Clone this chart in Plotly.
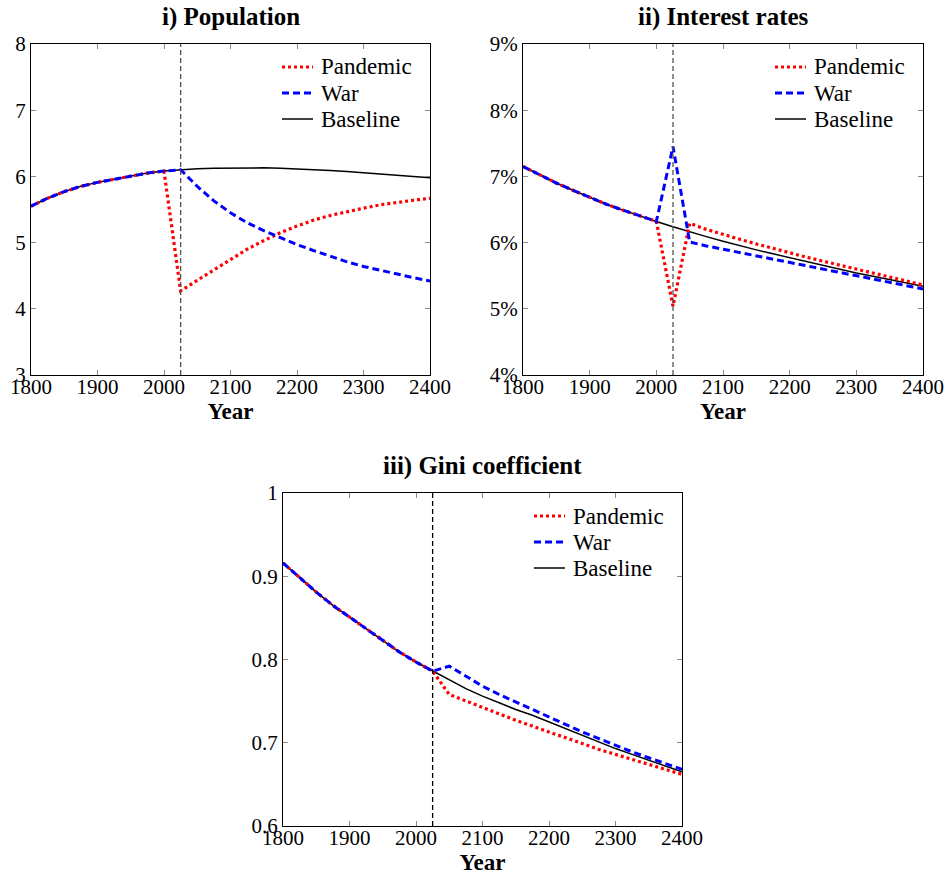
import plotly.graph_objects as go

# ---------------- data ----------------
years = [1800, 1825, 1850, 1875, 1900, 1925, 1950, 1975, 2000, 2025, 2050, 2075, 2100,
         2125, 2150, 2175, 2200, 2225, 2250, 2275, 2300, 2325, 2350, 2375, 2400]

pop_baseline = [5.55, 5.67, 5.77, 5.85, 5.91, 5.96, 6.01, 6.05, 6.08, 6.10, 6.115, 6.124, 6.129,
                6.131, 6.129, 6.123, 6.114, 6.103, 6.09, 6.075, 6.058, 6.04, 6.021, 6.001, 5.98]
pop_pandemic = [5.55, 5.67, 5.77, 5.85, 5.91, 5.96, 6.01, 6.05, 6.08, 4.27, 4.43, 4.59, 4.75,
                4.90, 5.03, 5.15, 5.25, 5.34, 5.41, 5.47, 5.52, 5.57, 5.61, 5.64, 5.67]
pop_war = [5.55, 5.67, 5.77, 5.85, 5.91, 5.96, 6.01, 6.05, 6.08, 6.10, 5.85, 5.63, 5.45,
           5.30, 5.18, 5.07, 4.97, 4.88, 4.79, 4.71, 4.64, 4.58, 4.52, 4.47, 4.42]

rate_baseline = [7.15, 7.02, 6.90, 6.79, 6.68, 6.58, 6.49, 6.40, 6.32, 6.24, 6.16, 6.09, 6.02,
                 5.95, 5.89, 5.83, 5.77, 5.71, 5.65, 5.59, 5.54, 5.49, 5.44, 5.39, 5.34]
rate_pandemic = [7.15, 7.02, 6.90, 6.79, 6.68, 6.58, 6.49, 6.40, 6.32, 5.04, 6.29, 6.20, 6.12,
                 6.05, 5.98, 5.91, 5.84, 5.78, 5.72, 5.66, 5.60, 5.54, 5.48, 5.42, 5.36]
rate_war = [7.15, 7.02, 6.90, 6.79, 6.68, 6.58, 6.49, 6.40, 6.32, 7.45, 6.01, 5.95, 5.90,
            5.85, 5.80, 5.75, 5.70, 5.65, 5.61, 5.56, 5.51, 5.46, 5.41, 5.36, 5.30]

gini_baseline = [0.916, 0.898, 0.881, 0.865, 0.851, 0.837, 0.822, 0.809, 0.797, 0.786, 0.775,
                 0.765, 0.756, 0.748, 0.740, 0.733, 0.725, 0.717, 0.709, 0.701, 0.693, 0.686,
                 0.679, 0.672, 0.665]
gini_pandemic = [0.916, 0.898, 0.881, 0.865, 0.851, 0.837, 0.822, 0.809, 0.797, 0.786, 0.758,
                 0.750, 0.742, 0.734, 0.727, 0.720, 0.713, 0.706, 0.699, 0.692, 0.686, 0.680,
                 0.674, 0.668, 0.662]
gini_war = [0.916, 0.898, 0.881, 0.865, 0.851, 0.837, 0.822, 0.809, 0.797, 0.786, 0.792,
            0.780, 0.768, 0.758, 0.749, 0.740, 0.731, 0.722, 0.713, 0.705, 0.697, 0.689,
            0.682, 0.675, 0.668]

shock_year = 2025
series_names = ["Pandemic", "War", "Baseline"]
titles = ["<b>i) Population</b>", "<b>ii) Interest rates</b>", "<b>iii) Gini coefficient</b>"]
x_ticks = [1800, 1900, 2000, 2100, 2200, 2300, 2400]
pop_ticks = [3, 4, 5, 6, 7, 8]
pop_ticktext = ["3", "4", "5", "6", "7", "8"]
rate_ticks = [4, 5, 6, 7, 8, 9]
rate_ticktext = ["4%", "5%", "6%", "7%", "8%", "9%"]
gini_ticks = [0.6, 0.7, 0.8, 0.9, 1.0]
gini_ticktext = ["0.6", "0.7", "0.8", "0.9", "1"]

# ---------------- styling ----------------
W, H = 947, 875
FONT = "Liberation Serif, DejaVu Serif, serif"
styles = {
    "Pandemic": dict(color="red", width=3.2, dash="3px,3px"),
    "War": dict(color="blue", width=3, dash="7px,4px"),
    "Baseline": dict(color="black", width=1.5),
}

fig = go.Figure()

panels = [
    dict(data={"Baseline": pop_baseline, "Pandemic": pop_pandemic, "War": pop_war},
         yr=[3, 8], yt=pop_ticks, ytt=pop_ticktext, px=(31, 430), py=(44, 375), vcol="#555555"),
    dict(data={"Baseline": rate_baseline, "Pandemic": rate_pandemic, "War": rate_war},
         yr=[4, 9], yt=rate_ticks, ytt=rate_ticktext, px=(523, 923), py=(44, 375), vcol="#555555"),
    dict(data={"Baseline": gini_baseline, "Pandemic": gini_pandemic, "War": gini_war},
         yr=[0.6, 1.0], yt=gini_ticks, ytt=gini_ticktext, px=(283, 682), py=(493, 826),
         vcol="#000000"),
]

for i, p in enumerate(panels):
    n = i + 1
    xa = "x" if n == 1 else f"x{n}"
    ya = "y" if n == 1 else f"y{n}"
    for name in ["Baseline", "Pandemic", "War"]:
        fig.add_trace(go.Scatter(x=years, y=p["data"][name], mode="lines", name=name,
                                 line=styles[name], xaxis=xa, yaxis=ya, showlegend=False,
                                 hoverinfo="skip"))

    xdom = [p["px"][0] / W, p["px"][1] / W]
    ydom = [1 - p["py"][1] / H, 1 - p["py"][0] / H]
    axis_common = dict(showline=True, linecolor="black", linewidth=1.2, mirror="allticks",
                       ticks="inside", ticklen=5, tickcolor="#888888", showgrid=False,
                       zeroline=False, tickfont=dict(family=FONT, size=21, color="black"),
                       automargin=False)
    xkey = "xaxis" if n == 1 else f"xaxis{n}"
    ykey = "yaxis" if n == 1 else f"yaxis{n}"
    fig.update_layout(**{
        xkey: dict(domain=xdom, range=[1800, 2400], tickvals=x_ticks, anchor=ya,
                   ticklabelstandoff=-7,
                   title=dict(text="<b>Year</b>", font=dict(family=FONT, size=23, color="black"),
                              standoff=0),
                   **axis_common),
        ykey: dict(domain=ydom, range=p["yr"], tickvals=p["yt"], ticktext=p["ytt"], anchor=xa,
                   **axis_common),
    })
    # vertical marker at the shock year
    fig.add_shape(type="line", x0=shock_year, x1=shock_year, y0=p["yr"][0], y1=p["yr"][1],
                  xref=xa, yref=ya, line=dict(color=p["vcol"], width=1.3, dash="5px,3px"))
    # panel title
    fig.add_annotation(text=titles[i], x=(xdom[0] + xdom[1]) / 2, xref="paper",
                       y=1 - (p["py"][0] - 27) / H, yref="paper", showarrow=False,
                       xanchor="center", yanchor="middle",
                       font=dict(family=FONT, size=25, color="black"))
    # legend (inside, top-right)
    for k, name in enumerate(series_names):
        yc = 1 - (p["py"][0] + 23 + 26 * k) / H
        fig.add_shape(type="line", xref="paper", yref="paper",
                      x0=(p["px"][1] - 148) / W, x1=(p["px"][1] - 117) / W, y0=yc, y1=yc,
                      line=styles[name])
        fig.add_annotation(text=name, xref="paper", yref="paper",
                           x=(p["px"][1] - 111) / W, y=yc, xanchor="left", yanchor="middle",
                           showarrow=False, font=dict(family=FONT, size=23, color="black"))

fig.update_layout(width=W, height=H, margin=dict(l=0, r=0, t=0, b=0),
                  font=dict(family=FONT, color="black"),
                  paper_bgcolor="white", plot_bgcolor="white", showlegend=False)

fig.write_html("out.html", config={"displayModeBar": False},
               post_script="document.body.style.margin='0';"
                           "document.documentElement.style.overflow='hidden';")
